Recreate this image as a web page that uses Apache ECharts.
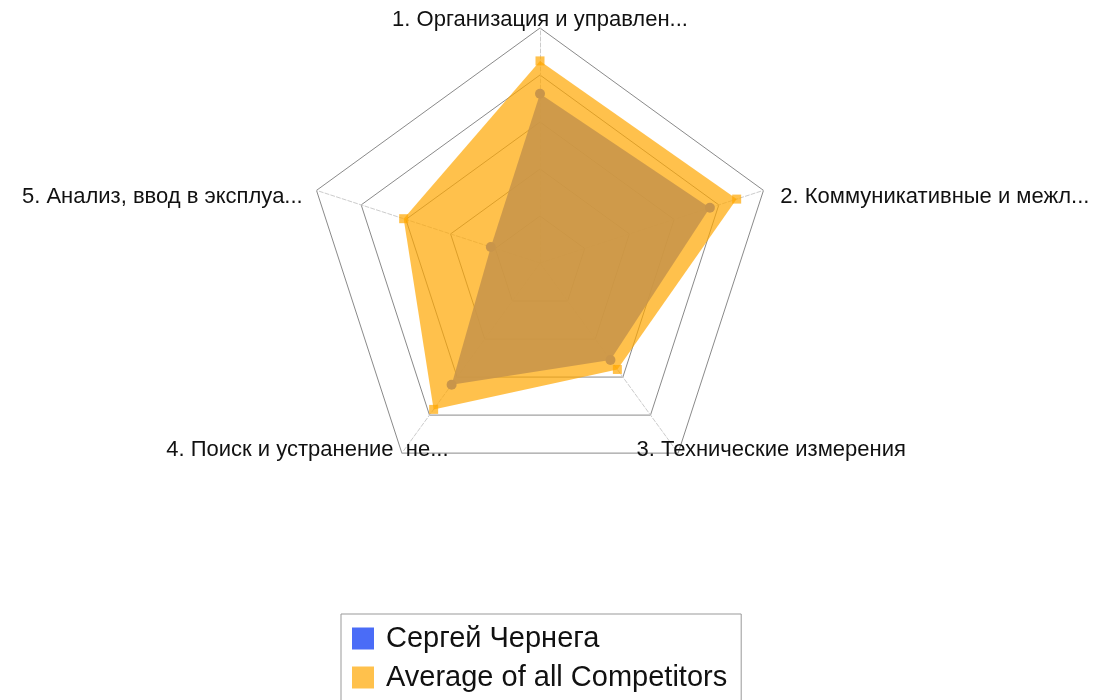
<!DOCTYPE html>
<html><head><meta charset="utf-8">
<script src="https://cdn.jsdelivr.net/npm/echarts@6/dist/echarts.min.js"></script>
<style>html,body{margin:0;padding:0;background:#fff}#c{width:1098px;height:700px}</style>
</head><body><div id="c"></div>
<script>
const indicatorNames = [
  '1. Организация и управлен...',
  '2. Коммуникативные и межл...',
  '3. Технические измерения',
  '4. Поиск и устранение  не...',
  '5. Анализ, ввод в эксплуа...'
];
const seriesNames = ['Сергей Чернега', 'Average of all Competitors'];
const sergeyValues = [72, 76, 51, 64, 22];
const averageValues = [86, 88, 56, 77, 61];
const maxValue = 100;

// ECharts places radar indicators counter-clockwise; reorder so they run clockwise
const order = [0, 4, 3, 2, 1];
const pick = arr => order.map(i => arr[i]);

const FONT = '"Liberation Sans", Arial, sans-serif';
const FS = 22;
const richBase = {fontSize: FS, fontFamily: FONT, color: '#111'};
const richPads = {
  r0: [0, 0, -7, 0],
  r1: [16, 0, 0, 13],
  r2: [0, 0, 13, -44],
  r3: [0, -49, 13, 0],
  r4: [16, 10, 0, 0]
};
const rich = {};
Object.keys(richPads).forEach(k => { rich[k] = Object.assign({}, richBase, {padding: richPads[k]}); });

const chart = echarts.init(document.getElementById('c'), null, {renderer: 'canvas'});
chart.setOption({
  animation: false,
  backgroundColor: '#fff',
  legend: {
    orient: 'horizontal',
    left: 341, top: 614,
    width: 380,
    padding: [10, 14, 12, 11],
    borderColor: '#999', borderWidth: 1,
    backgroundColor: '#fff',
    itemWidth: 22, itemHeight: 22, itemGap: 10,
    icon: 'rect',
    textStyle: {fontSize: 29, color: '#111', fontFamily: FONT, padding: [0, 0, 0, 7]},
    data: seriesNames
  },
  radar: {
    center: [540, 263],
    radius: 235,
    shape: 'polygon',
    splitNumber: 5,
    nameGap: 4,
    indicator: pick(indicatorNames).map(n => ({name: n, max: maxValue, min: 0})),
    axisName: {
      color: '#111', fontSize: FS, fontFamily: FONT,
      formatter: function (name) {
        const i = indicatorNames.indexOf(name);
        return '{r' + i + '|' + name + '}';
      },
      rich: rich
    },
    splitLine: {lineStyle: {color: '#8a8a8a', width: 1}},
    splitArea: {show: false},
    axisLine: {lineStyle: {color: '#cccccc', type: 'dashed', width: 1}},
    axisTick: {show: false},
    axisLabel: {show: false}
  },
  series: [
    {
      type: 'radar',
      name: seriesNames[0],
      z: 2,
      symbol: 'circle', symbolSize: 10,
      itemStyle: {color: '#4a6cf7'},
      lineStyle: {width: 0, opacity: 0},
      areaStyle: {color: '#4a6cf7', opacity: 0.88},
      data: [{value: pick(sergeyValues), name: seriesNames[0]}]
    },
    {
      type: 'radar',
      name: seriesNames[1],
      z: 3,
      symbol: 'rect', symbolSize: 9,
      itemStyle: {color: 'rgba(255,166,0,0.7)'},
      lineStyle: {width: 0, opacity: 0},
      areaStyle: {color: 'rgba(255,166,0,0.7)', opacity: 1},
      data: [{value: pick(averageValues), name: seriesNames[1]}]
    }
  ]
});
</script></body></html>
